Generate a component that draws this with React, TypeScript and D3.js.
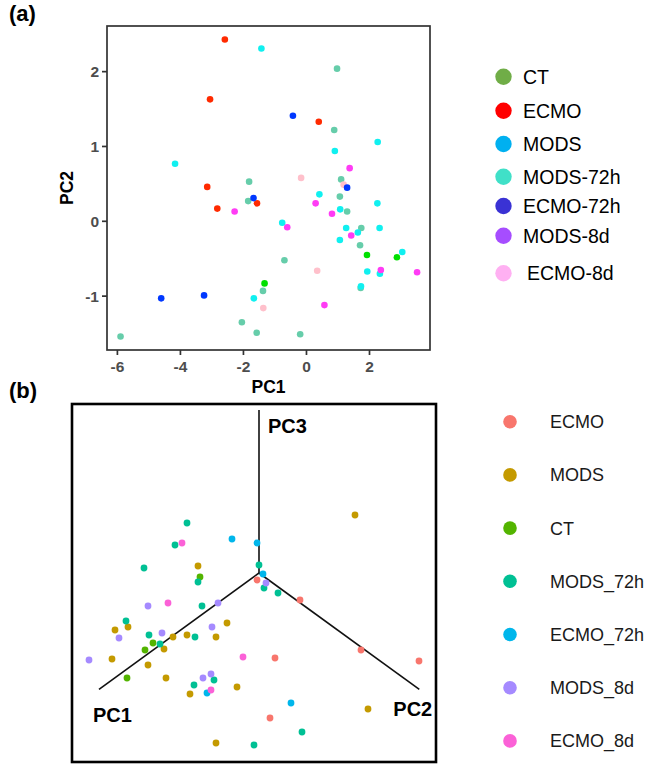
import React from "react";
import * as d3 from "d3";

// ---------- Panel (a): PCA 2D ----------
const groupsA = ["CT", "ECMO", "MODS", "MODS-72h", "ECMO-72h", "MODS-8d", "ECMO-8d"];
const legendColorsA = ["#70AD47", "#FF0000", "#00B0F0", "#40E0C8", "#3A32D4", "#A64DFF", "#FFB0F2"];
const pointColorsA = ["#00E000", "#FF2A00", "#10F0F0", "#66CDAA", "#0038FF", "#FF3CF5", "#FFC0CB"];

const ctA: [number, number][] = [[-1.33, -0.83], [1.92, -0.45], [2.87, -0.48]];
const ecmoA: [number, number][] = [[-2.59, 2.43], [-3.06, 1.63], [-3.15, 0.46], [-2.83, 0.17], [-1.57, 0.24], [0.39, 1.33]];
const modsA: [number, number][] = [
  [-1.43, 2.31], [-4.17, 0.77], [2.26, 1.06], [0.9, 0.94], [0.41, 0.36], [2.25, 0.24], [1.07, 0.16],
  [-0.77, -0.02], [1.26, -0.09], [1.63, -0.15], [2.32, -0.09], [1.06, -0.25], [3.04, -0.41],
  [1.93, -0.67], [2.33, -0.7], [1.73, -0.87], [-1.67, -1.03],
];
const mods72hA: [number, number][] = [
  [0.97, 2.04], [0.88, 1.22], [-1.82, 0.53], [-1.85, 0.27], [1.1, 0.56], [1.06, 0.33], [1.29, 0.13],
  [1.74, -0.09], [1.7, -0.32], [-0.7, -0.52], [-1.38, -0.93], [1.72, -0.89], [-2.05, -1.35],
  [-1.58, -1.49], [-5.9, -1.54], [-0.2, -1.51],
];
const ecmo72hA: [number, number][] = [[-0.43, 1.41], [-1.68, 0.31], [1.29, 0.45], [-4.61, -1.03], [-3.25, -0.99]];
const mods8dA: [number, number][] = [
  [1.37, 0.71], [-2.28, 0.13], [0.29, 0.24], [0.81, 0.1], [-0.61, -0.08], [1.42, -0.19],
  [2.36, -0.65], [3.51, -0.68], [0.57, -1.12],
];
const ecmo8dA: [number, number][] = [[-0.17, 0.58], [1.18, 0.49], [0.34, -0.66], [-1.37, -1.16]];

const seriesA = [ctA, ecmoA, modsA, mods72hA, ecmo72hA, mods8dA, ecmo8dA];
const drawOrderA = [3, 2, 1, 0, 5, 6, 4];

const xTicksA = [-6, -4, -2, 0, 2];
const yTicksA = [-1, 0, 1, 2];

// ---------- Panel (b): PCA 3D projection ----------
const groupsB = ["ECMO", "MODS", "CT", "MODS_72h", "ECMO_72h", "MODS_8d", "ECMO_8d"];
const colorsB = ["#F8766D", "#C49A00", "#53B400", "#00C094", "#00B6EB", "#A58AFF", "#FB61D7"];

const ecmoB: [number, number][] = [[-0.02, -0.07], [0.41, -0.27], [1.02, -0.77], [1.6, -0.88], [0.16, -0.85], [0.11, -1.45]];
const modsB: [number, number][] = [
  [0.96, 0.58], [-0.61, 0.07], [-1.31, -0.54], [-1.44, -0.57], [-0.95, -0.76], [-0.86, -0.64],
  [-0.72, -0.62], [-0.32, -0.5], [-0.43, -0.64], [-1.47, -0.86], [-1.11, -0.92], [-0.93, -1.05],
  [-0.69, -1.21], [-0.22, -1.14], [-0.43, -1.7], [1.09, -1.36],
];
const ctB: [number, number][] = [[-0.59, -0.04], [-1.06, -0.7], [-1.14, -0.77], [-1.32, -1.05]];
const mods72hB: [number, number][] = [
  [-0.72, 0.5], [-0.84, 0.28], [-1.15, 0.05], [-0.61, -0.09], [0.0, 0.08], [0.05, -0.15],
  [0.19, -0.2], [-0.57, -0.33], [-1.33, -0.48], [-1.1, -0.62], [-0.99, -0.71], [-0.64, -0.64],
  [-0.45, -1.07], [-0.65, -1.12], [-0.05, -1.72], [0.43, -1.59],
];
const ecmo72hB: [number, number][] = [[-0.27, 0.34], [-0.02, 0.3], [0.04, -0.01], [-0.52, -1.2], [0.32, -1.3]];
const mods8dB: [number, number][] = [
  [0.07, -0.1], [-1.11, -0.33], [-0.41, -0.3], [-1.4, -0.65], [-0.97, -0.6], [-0.47, -0.54],
  [-1.7, -0.87], [-0.56, -1.05], [-0.48, -1.01],
];
const ecmo8dB: [number, number][] = [[-0.77, 0.3], [-0.91, -0.3], [-0.16, -0.84], [-0.48, -1.17]];

const seriesB = [ecmoB, modsB, ctB, mods72hB, ecmo72hB, mods8dB, ecmo8dB];

// projected axis directions (origin at 0,0)
const axisNamesB = ["PC1", "PC2", "PC3"];
const axisEndsB: [number, number][] = [[-1.6, -1.163], [1.603, -1.163], [0, 1.63]];

const FONT = "'Liberation Sans', Arial, Helvetica, sans-serif";

export default function App() {
  // Panel (a) scales
  const xA = d3.scaleLinear().domain([-6.33, 3.92]).range([107, 430]);
  const yA = d3.scaleLinear().domain([-1.72, 2.61]).range([350, 26]);
  // Panel (b) scales
  const xB = d3.scaleLinear().domain([-1.87, 1.77]).range([72, 436]);
  const yB = d3.scaleLinear().domain([-1.89, 1.69]).range([762, 404]);

  const legendYA = [76.7, 110.7, 144, 176.7, 206, 235.7, 273.3];
  const tickColor = "#4D4D4D";

  const [x0, x1] = xA.range();
  const [y0, y1] = yA.range();

  return (
    <svg
      width={656}
      height={764}
      style={{ position: "absolute", left: 0, top: 0, background: "#fff" }}
      fontFamily={FONT}
    >
      <rect x={0} y={0} width={656} height={764} fill="#fff" />
      {/* ---------- Panel (a) ---------- */}
      <text x={9} y={21} fontSize={22} fontWeight="bold" fill="#000">(a)</text>
      <rect x={x0} y={y1} width={x1 - x0} height={y0 - y1} fill="none" stroke="#333" strokeWidth={1.7} />
      {xTicksA.map((t) => (
        <g key={"xt" + t}>
          <line x1={xA(t)} x2={xA(t)} y1={y0} y2={y0 + 5} stroke="#333" strokeWidth={1.7} />
          <text x={xA(t)} y={372} textAnchor="middle" fontSize={15.5} fontWeight="bold" fill={tickColor}>
            {t}
          </text>
        </g>
      ))}
      {yTicksA.map((t) => (
        <g key={"yt" + t}>
          <line x1={x0 - 5} x2={x0} y1={yA(t)} y2={yA(t)} stroke="#333" strokeWidth={1.7} />
          <text x={99} y={yA(t) + 5.5} textAnchor="end" fontSize={15.5} fontWeight="bold" fill={tickColor}>
            {t}
          </text>
        </g>
      ))}
      <text x={(x0 + x1) / 2} y={393} textAnchor="middle" fontSize={17.5} fontWeight="bold" fill="#000">PC1</text>
      <text
        transform={`translate(73,${(y0 + y1) / 2}) rotate(-90)`}
        textAnchor="middle"
        fontSize={17.5}
        fontWeight="bold"
        fill="#000"
      >
        PC2
      </text>
      {drawOrderA.map((gi) =>
        seriesA[gi].map((d, i) => (
          <circle key={`a${gi}-${i}`} cx={xA(d[0])} cy={yA(d[1])} r={3.3} fill={pointColorsA[gi]} />
        ))
      )}
      {groupsA.map((g, i) => (
        <g key={"la" + g}>
          <circle cx={503.5} cy={legendYA[i]} r={8.2} fill={legendColorsA[i]} />
          <text x={i === 6 ? 527 : 523} y={legendYA[i] + 7} fontSize={19.5} fill="#000">
            {g}
          </text>
        </g>
      ))}

      {/* ---------- Panel (b) ---------- */}
      <text x={9} y={398} fontSize={22} fontWeight="bold" fill="#000">(b)</text>
      <rect
        x={xB.range()[0]}
        y={yB.range()[1]}
        width={xB.range()[1] - xB.range()[0]}
        height={yB.range()[0] - yB.range()[1]}
        fill="none"
        stroke="#000"
        strokeWidth={2.6}
      />
      {axisEndsB.map((e, i) => (
        <line key={"ax" + i} x1={xB(0)} y1={yB(0)} x2={xB(e[0])} y2={yB(e[1])} stroke="#111" strokeWidth={1.6} />
      ))}
      <text x={xB(axisEndsB[2][0]) + 9} y={yB(axisEndsB[2][1]) + 23} fontSize={20} fontWeight="bold" fill="#000">
        {axisNamesB[2]}
      </text>
      <text x={xB(axisEndsB[0][0]) - 6} y={yB(axisEndsB[0][1]) + 33} fontSize={20} fontWeight="bold" fill="#000">
        {axisNamesB[0]}
      </text>
      <text x={xB(axisEndsB[1][0]) - 26} y={yB(axisEndsB[1][1]) + 27} fontSize={20} fontWeight="bold" fill="#000">
        {axisNamesB[1]}
      </text>
      {seriesB.map((s, gi) =>
        s.map((d, i) => (
          <circle key={`b${gi}-${i}`} cx={xB(d[0])} cy={yB(d[1])} r={3.4} fill={colorsB[gi]} />
        ))
      )}
      {groupsB.map((g, i) => (
        <g key={"lb" + g}>
          <circle cx={510} cy={421.7 + i * 53.2} r={6.8} fill={colorsB[i]} />
          <text x={550} y={421.7 + i * 53.2 + 6.5} fontSize={18} fill="#1a1a1a">
            {g}
          </text>
        </g>
      ))}
    </svg>
  );
}
